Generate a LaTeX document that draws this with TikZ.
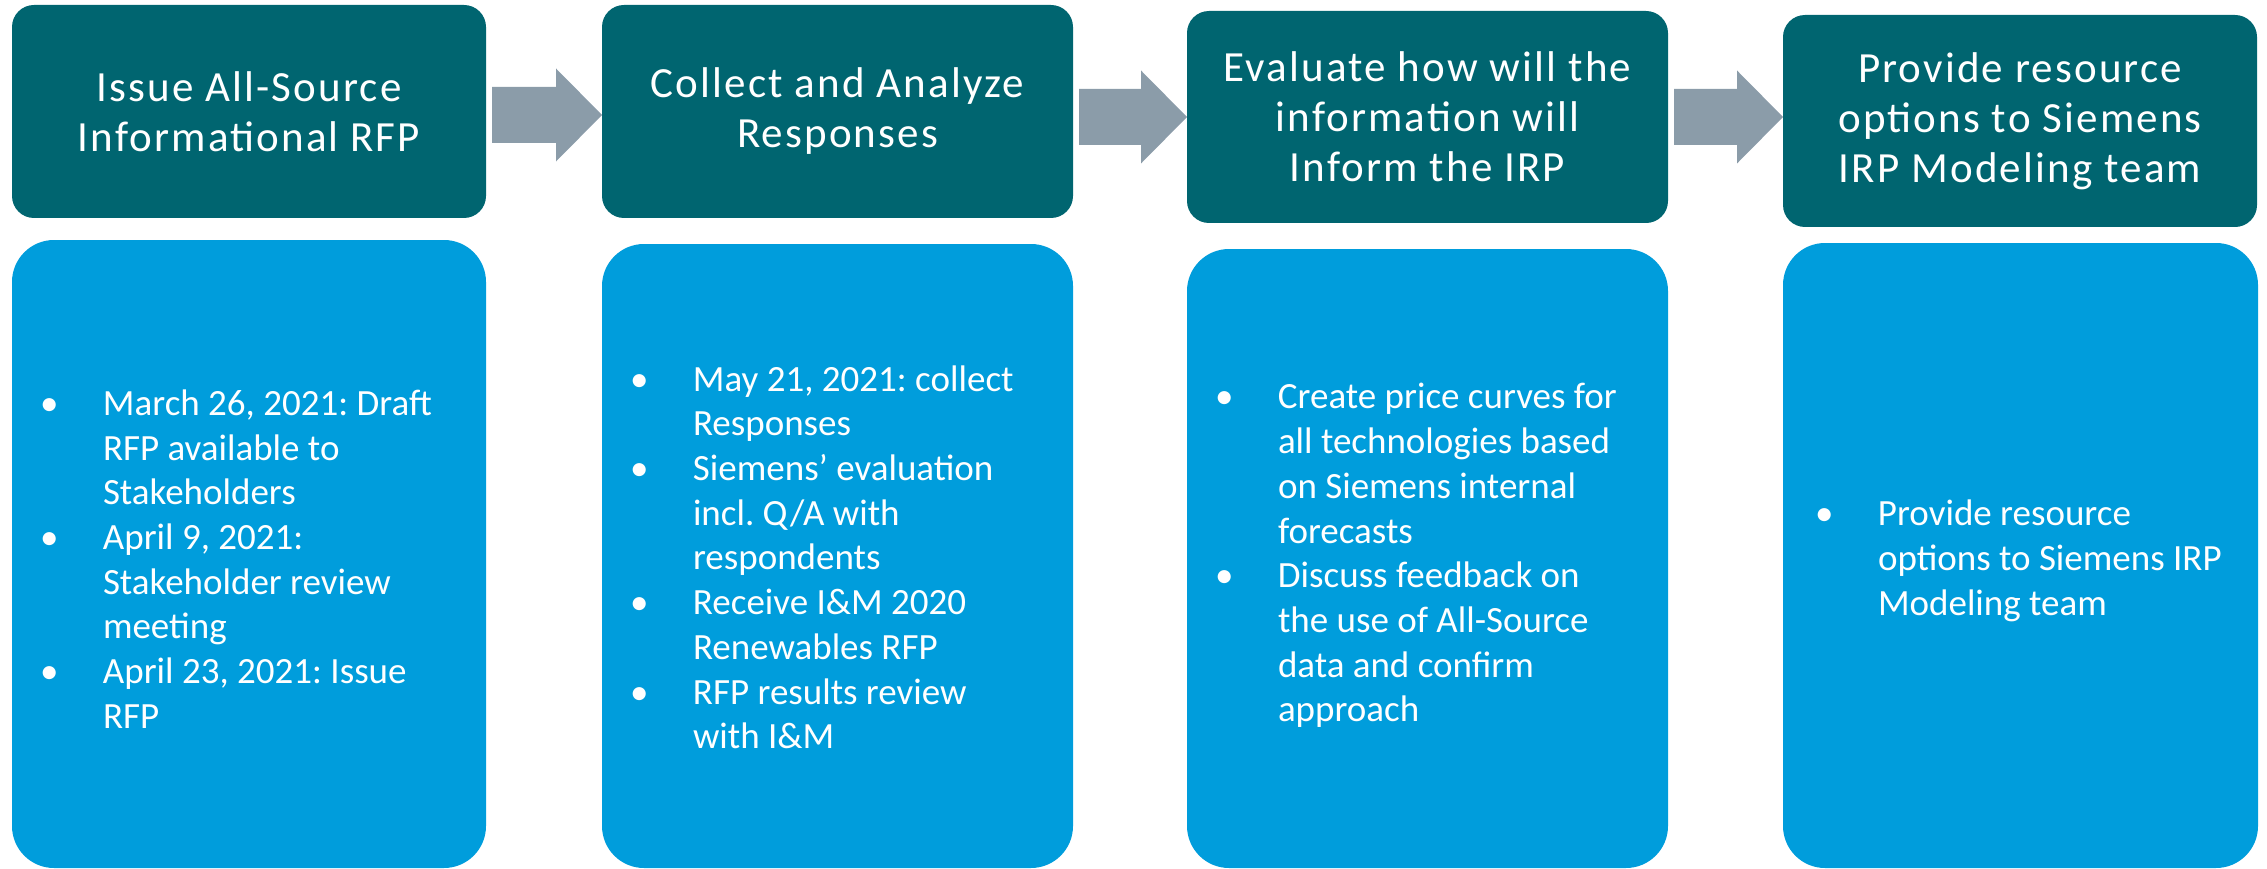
\documentclass[tikz,border=0pt]{standalone}
\usepackage{fontspec}
\setmainfont{Carlito}
\newfontfamily\headfont[LetterSpace=5]{Carlito}
\usetikzlibrary{calc}
\frenchspacing
\definecolor{tealbox}{HTML}{006570}
\definecolor{bluebox}{HTML}{009DDC}
\definecolor{arrowgray}{HTML}{8B9CA9}
\newcommand\blockarr[3]{%
  \path (#1.east |- 0,#3) coordinate (ba-s) (#2.west |- 0,#3) coordinate (ba-e);
  \fill[arrowfill] ([shift={(6,-28)}]ba-s) -- ([shift={(-46,-28)}]ba-e) -- ([shift={(-46,-46.5)}]ba-e)
    -- (ba-e) -- ([shift={(-46,46.5)}]ba-e) -- ([shift={(-46,28)}]ba-e) -- ([shift={(6,28)}]ba-s) -- cycle;}
\newcommand\bul{\makebox[63pt][l]{\textbullet}}
\begin{document}
\frenchspacing
\begin{tikzpicture}[x=1pt,y=-1pt,
  topbox/.style={fill=tealbox, rounded corners=22pt, inner sep=0pt, outer sep=0pt, text=white,
    align=center, font=\headfont\fontsize{43}{50}\selectfont},
  botbox/.style={fill=bluebox, rounded corners=42pt, inner sep=0pt, outer sep=0pt},
  bultext/.style={anchor=west, inner sep=0pt, outer sep=0pt, text=white,
    font=\fontsize{37}{44.7}\selectfont},
  arrowfill/.style={fill=arrowgray}]
\useasboundingbox (0,0) rectangle (2267,869);

% top boxes
\node[topbox, minimum width=474pt, minimum height=213pt] (t1) at (249,111.5)
  {Issue All-Source\\Informational RFP};
\node[topbox, minimum width=471pt, minimum height=213pt] (t2) at (837.5,111.5)
  {Collect and Analyze\\Responses};
\node[topbox, minimum width=481pt, minimum height=212pt] (t3) at (1427.5,117)
  {Evaluate how will the\\information will\\Inform the IRP};
\node[topbox, minimum width=474pt, minimum height=212pt] (t4) at (2020,121)
  {Provide resource\\options to Siemens\\IRP Modeling team};

% arrows
\blockarr{t1}{t2}{115}
\blockarr{t2}{t3}{117}
\blockarr{t3}{t4}{117}

% bottom boxes
\node[botbox, minimum width=474pt, minimum height=628pt] (b1) at (249,554) {};
\node[botbox, minimum width=471pt, minimum height=624pt] (b2) at (837.5,556) {};
\node[botbox, minimum width=481pt, minimum height=619pt] (b3) at (1427.5,558.5) {};
\node[botbox, minimum width=475pt, minimum height=625pt] (b4) at (2020.5,555.5) {};

\node[bultext] (l1) at ([xshift=28pt,yshift=-9pt]b1.west) {\begin{tabular}{@{}l@{}l@{}}
\bul & March 26, 2021: Draft\\
 & RFP available to\\
 & Stakeholders\\
\bul & April 9, 2021:\\
 & Stakeholder review\\
 & meeting\\
\bul & April 23, 2021: Issue\\
 & RFP
\end{tabular}};

\node[bultext] (l2) at ([xshift=28pt,yshift=-5pt]b2.west) {\begin{tabular}{@{}l@{}l@{}}
\bul & May 21, 2021: collect\\
 & Responses\\
\bul & Siemens’ evaluation\\
 & incl.\ Q/A with\\
 & respondents\\
\bul & Receive I\&M 2020\\
 & Renewables RFP\\
\bul & RFP results review\\
 & with I\&M
\end{tabular}};

\node[bultext] (l3) at ([xshift=28pt,yshift=2pt]b3.west) {\begin{tabular}{@{}l@{}l@{}}
\bul & Create price curves for\\
 & all technologies based\\
 & on Siemens internal\\
 & forecasts\\
\bul & Discuss feedback on\\
 & the use of All-Source\\
 & data and confirm\\
 & approach
\end{tabular}};

\node[bultext] (l4) at ([xshift=32pt,yshift=-6pt]b4.west) {\begin{tabular}{@{}l@{}l@{}}
\bul & Provide resource\\
 & options to Siemens IRP\\
 & Modeling team
\end{tabular}};
\end{tikzpicture}
\end{document}
